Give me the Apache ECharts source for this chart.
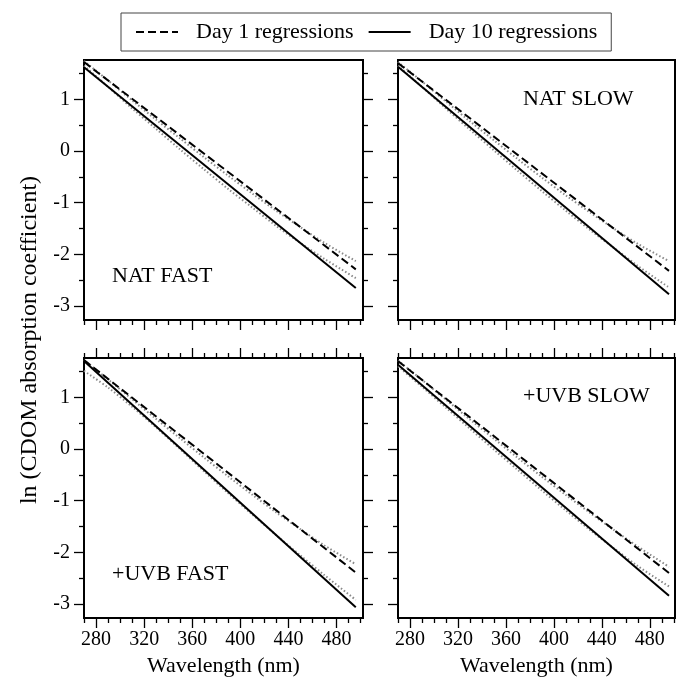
<!DOCTYPE html>
<html>
<head>
<meta charset="utf-8">
<script src="https://cdn.jsdelivr.net/npm/echarts@6/dist/echarts.min.js"></script>
<style>html,body{margin:0;padding:0;background:#fff}#c{width:676px;height:679px}</style>
</head>
<body>
<div id="c"></div>
<script>
// ---------------- data ----------------
const panelLabels = ['NAT FAST', 'NAT SLOW', '+UVB FAST', '+UVB SLOW'];
const wavelengths = [270, 290, 310, 330, 350, 370, 390, 410, 430, 450, 470, 496];
const fitWavelengths = [270, 496];
// regression line end values (ln a) at 270 nm and 496 nm, per panel
const day1Fit = [[1.72, -2.29], [1.70, -2.32], [1.72, -2.39], [1.70, -2.40]];
const day10Fit = [[1.62, -2.65], [1.63, -2.77], [1.70, -3.06], [1.63, -2.84]];
// measured spectra (dotted), per panel
const day1Data = [
  [1.74, 1.365, 0.98, 0.605, 0.24, -0.124, -0.479, -0.824, -1.159, -1.474, -1.779, -2.13],
  [1.72, 1.344, 0.958, 0.573, 0.207, -0.159, -0.515, -0.86, -1.186, -1.502, -1.798, -2.13],
  [1.72, 1.346, 0.963, 0.579, 0.205, -0.169, -0.532, -0.886, -1.23, -1.553, -1.867, -2.23],
  [1.71, 1.337, 0.954, 0.571, 0.199, -0.174, -0.537, -0.89, -1.233, -1.566, -1.888, -2.28]
];
const day10Data = [
  [1.65, 1.242, 0.824, 0.426, 0.028, -0.359, -0.737, -1.095, -1.453, -1.781, -2.089, -2.46],
  [1.65, 1.241, 0.821, 0.412, 0.012, -0.387, -0.776, -1.156, -1.525, -1.874, -2.224, -2.64],
  [1.51, 1.189, 0.818, 0.416, -0.005, -0.436, -0.857, -1.269, -1.67, -2.061, -2.442, -2.92],
  [1.60, 1.204, 0.799, 0.393, -0.012, -0.408, -0.803, -1.189, -1.565, -1.92, -2.266, -2.66]
];
const xMajorTicks = [280, 320, 360, 400, 440, 480];
const xMinorTicks = [270, 290, 300, 310, 330, 340, 350, 370, 380, 390, 410, 420, 430, 450, 460, 470, 490, 500];
const yMajorTicks = [-3, -2, -1, 0, 1];
const yMinorTicks = [-2.5, -1.5, -0.5, 0.5, 1.5];
const seriesNames = ['Day 1 regressions', 'Day 10 regressions'];
const xTitle = 'Wavelength (nm)';
const yTitle = 'ln (CDOM absorption coefficient)';

// ---------------- layout ----------------
const FONT = 'Liberation Serif';
const grids = [
  {left: 84, top: 60, width: 279, height: 260, xMax: 502},
  {left: 398, top: 60, width: 277, height: 260, xMax: 501},
  {left: 84, top: 358, width: 279, height: 260, xMax: 502},
  {left: 398, top: 358, width: 277, height: 260, xMax: 501}
];
const labelPos = [[112, 277], [523, 100], [112, 575], [523, 397]];
const Y_MIN = -3.27, Y_MAX = 1.76;

const xAxes = [], yAxes = [], series = [];
const tickStyle = {color: '#000', width: 1.3};

grids.forEach((g, i) => {
  const isBottom = i >= 2, isLeft = i % 2 === 0;
  const baseX = {gridIndex: i, type: 'value', min: 270, max: g.xMax,
    axisLine: {show: false, onZero: false}, splitLine: {show: false}};
  const baseY = {gridIndex: i, type: 'value', min: Y_MIN, max: Y_MAX,
    axisLine: {show: false, onZero: false}, splitLine: {show: false}};
  const xMain = xAxes.length;
  xAxes.push(Object.assign({}, baseX, {
    position: 'bottom',
    axisTick: {show: true, inside: false, length: 10, customValues: xMajorTicks, lineStyle: tickStyle},
    axisLabel: {show: isBottom, customValues: xMajorTicks, margin: 12, color: '#000',
      fontFamily: FONT, fontSize: 20},
    name: isBottom ? xTitle : '', nameLocation: 'middle', nameGap: 37,
    nameTextStyle: {fontFamily: FONT, fontSize: 22, color: '#000'}
  }));
  xAxes.push(Object.assign({}, baseX, {
    position: 'bottom',
    axisTick: {show: true, inside: false, length: 5, customValues: xMinorTicks, lineStyle: tickStyle},
    axisLabel: {show: false}
  }));
  if (isBottom) {
    xAxes.push(Object.assign({}, baseX, {
      position: 'top',
      axisTick: {show: true, inside: false, length: 10, customValues: xMajorTicks, lineStyle: tickStyle},
      axisLabel: {show: false}
    }));
    xAxes.push(Object.assign({}, baseX, {
      position: 'top',
      axisTick: {show: true, inside: false, length: 5, customValues: xMinorTicks, lineStyle: tickStyle},
      axisLabel: {show: false}
    }));
  }
  const yMain = yAxes.length;
  yAxes.push(Object.assign({}, baseY, {
    position: 'left',
    axisTick: {show: true, inside: false, length: 10, customValues: yMajorTicks, lineStyle: tickStyle},
    axisLabel: {show: isLeft, customValues: yMajorTicks, margin: 14, color: '#000',
      fontFamily: FONT, fontSize: 20}
  }));
  yAxes.push(Object.assign({}, baseY, {
    position: 'left',
    axisTick: {show: true, inside: false, length: 5, customValues: yMinorTicks, lineStyle: tickStyle},
    axisLabel: {show: false}
  }));
  yAxes.push(Object.assign({}, baseY, {
    position: 'right',
    axisTick: {show: true, inside: false, length: 10, customValues: yMajorTicks, lineStyle: tickStyle},
    axisLabel: {show: false}
  }));
  yAxes.push(Object.assign({}, baseY, {
    position: 'right',
    axisTick: {show: true, inside: false, length: 5, customValues: yMinorTicks, lineStyle: tickStyle},
    axisLabel: {show: false}
  }));

  const dataStyle = {color: '#8a8a8a', width: 2, type: [1.5, 2.2]};
  series.push({
    type: 'line', name: 'Day 1 spectrum', xAxisIndex: xMain, yAxisIndex: yMain,
    data: wavelengths.map((w, k) => [w, day1Data[i][k]]), smooth: 0.3,
    symbol: 'none', lineStyle: dataStyle, z: 2, silent: true
  });
  series.push({
    type: 'line', name: 'Day 10 spectrum', xAxisIndex: xMain, yAxisIndex: yMain,
    data: wavelengths.map((w, k) => [w, day10Data[i][k]]), smooth: 0.3,
    symbol: 'none', lineStyle: dataStyle, z: 2, silent: true
  });
  series.push({
    type: 'line', name: seriesNames[0], xAxisIndex: xMain, yAxisIndex: yMain,
    data: fitWavelengths.map((w, k) => [w, day1Fit[i][k]]),
    symbol: 'none', color: '#000', lineStyle: {color: '#000', width: 2, type: [8, 4]}, z: 3
  });
  series.push({
    type: 'line', name: seriesNames[1], xAxisIndex: xMain, yAxisIndex: yMain,
    data: fitWavelengths.map((w, k) => [w, day10Fit[i][k]]),
    symbol: 'none', color: '#000', lineStyle: {color: '#000', width: 2, type: 'solid'}, z: 3
  });
});

const graphic = [];
panelLabels.forEach((t, i) => {
  graphic.push({type: 'text', left: labelPos[i][0], top: labelPos[i][1] - 12,
    style: {text: t, fontFamily: FONT, fontSize: 22, fill: '#000'}});
});
graphic.push({type: 'text', x: 30, y: 340, rotation: Math.PI / 2,
  style: {text: yTitle, fontFamily: FONT, fontSize: 24, fill: '#000',
    textAlign: 'center', textVerticalAlign: 'middle'}});

const option = {
  animation: false,
  backgroundColor: '#fff',
  grid: grids.map(g => ({left: g.left, top: g.top, width: g.width, height: g.height,
    show: true, borderColor: '#000', borderWidth: 2, backgroundColor: 'transparent'})),
  xAxis: xAxes,
  yAxis: yAxes,
  series: series,
  legend: {
    data: seriesNames, left: 121, top: 13, orient: 'horizontal',
    padding: [8, 14], itemGap: 14, itemWidth: 42, itemHeight: 12,
    borderColor: '#444', borderWidth: 1, borderRadius: 0,
    itemStyle: {color: 'transparent', borderColor: 'transparent', borderWidth: 0, opacity: 0},
    textStyle: {fontFamily: FONT, fontSize: 22, color: '#000', padding: [0, 0, 0, 13]},
    selectedMode: false
  },
  graphic: graphic
};
const chart = echarts.init(document.getElementById('c'), null, {renderer: 'canvas'});
chart.setOption(option);
</script>
</body>
</html>
